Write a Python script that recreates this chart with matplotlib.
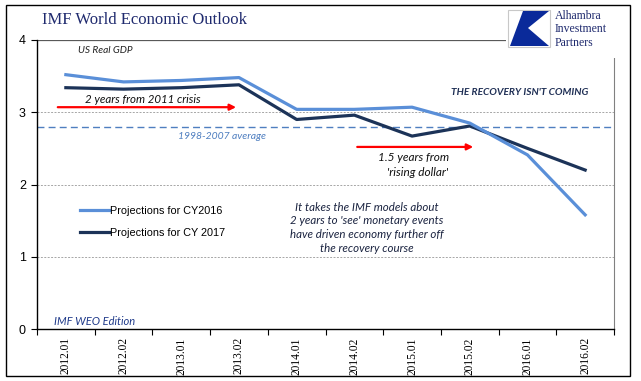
import matplotlib.pyplot as plt
from matplotlib.patches import Rectangle, Polygon

# IMF WEO projections of US real GDP growth, by WEO edition
editions = ['2012.01', '2012.02', '2013.01', '2013.02', '2014.01',
            '2014.02', '2015.01', '2015.02', '2016.01', '2016.02']
cy2016 = [3.52, 3.42, 3.44, 3.48, 3.04, 3.04, 3.07, 2.85, 2.41, 1.58]
cy2017 = [3.34, 3.32, 3.34, 3.38, 2.90, 2.96, 2.67, 2.81, 2.50, 2.20]
avg_98_07 = 2.8

light = '#5a8fd8'
dark = '#1c3358'
navy_text = '#1f2a6e'

fig = plt.figure(figsize=(6.41, 3.81), dpi=100)
ax = fig.add_axes([37 / 641, 1 - 329 / 381, 577 / 641, 289 / 381])

x = list(range(len(editions)))
ax.plot(x, cy2016, color=light, lw=2.3, label='Projections for CY2016', zorder=4)
ax.plot(x, cy2017, color=dark, lw=2.3, label='Projections for CY 2017', zorder=3)

ax.set_xlim(-0.5, len(editions) - 0.5)
ax.set_ylim(0, 4)

# gridlines and average line
for g in [1, 2, 3]:
    ax.axhline(g, color='#a6a6a6', lw=0.7, ls=(0, (2, 1.5)), zorder=1)
ax.axhline(4, color='#595959', lw=0.9, zorder=1)
ax.axhline(avg_98_07, color='#4f7fc0', lw=1.0, ls=(0, (5, 3)), zorder=2)

ax.spines['top'].set_visible(False)
ax.spines['right'].set_color('#808080')
ax.spines['left'].set_linewidth(1.0)
ax.spines['bottom'].set_linewidth(1.0)

ax.set_yticks([0, 1, 2, 3, 4])
ax.set_yticklabels(['0', '1', '2', '3', '4'], fontsize=9, family='Liberation Sans')
ax.tick_params(axis='y', length=4, width=0.8, pad=4)

ax.set_xticks([i - 0.5 for i in range(len(editions) + 1)])
ax.set_xticklabels([])
ax.set_xticks(x, minor=True)
ax.set_xticklabels(editions, minor=True, rotation=90, fontsize=8.3,
                   family='Liberation Serif')
ax.tick_params(axis='x', which='major', length=4, width=0.8)
ax.tick_params(axis='x', which='minor', length=0, pad=6)

leg = ax.legend(loc='upper left', bbox_to_anchor=(70 / 641, 1 - 196 / 381),
                bbox_transform=fig.transFigure, frameon=False,
                handlelength=2.7, handletextpad=0.1, labelspacing=1.1,
                prop={'family': 'Liberation Sans', 'size': 7.8})

# annotations
it = dict(style='italic', family='Lato')
ax.text(0.68, 3.86, 'US Real GDP', fontsize=7.3, color='#222222', ha='center', va='center', **it)
ax.text(1.34, 3.17, '2 years from 2011 crisis', fontsize=8.3, color='#111111',
        ha='center', va='center', **it)
ax.annotate('', xy=(2.95, 3.07), xytext=(-0.14, 3.07),
            arrowprops=dict(arrowstyle='-|>', color='#ff0000', lw=1.6,
                            mutation_scale=9, shrinkA=0, shrinkB=0))
ax.text(2.71, 2.66, '1998-2007 average', fontsize=7.5, color='#4f7fc0',
        ha='center', va='center', **it)
ax.text(7.87, 3.28, "THE RECOVERY ISN'T COMING", fontsize=7.3, color='#1f2f55',
        ha='center', va='center', weight='bold', **it)
ax.annotate('', xy=(7.06, 2.52), xytext=(5.05, 2.52),
            arrowprops=dict(arrowstyle='-|>', color='#ff0000', lw=1.6,
                            mutation_scale=9, shrinkA=0, shrinkB=0))
ax.text(6.02, 2.38, '1.5 years from', fontsize=8.5, color='#111111',
        ha='center', va='center', **it)
ax.text(6.1, 2.17, "'rising dollar'", fontsize=8.5, color='#111111',
        ha='center', va='center', **it)
ax.text(5.22, 1.40, "It takes the IMF models about\n2 years to 'see' monetary events\n"
        "have driven economy further off\nthe recovery course",
        fontsize=8.3, color='#1a2340', ha='center', va='center', linespacing=1.3, **it)
ax.text(0.5, 0.11, 'IMF WEO Edition', fontsize=8, color='#1f3a8a',
        ha='center', va='center', **it)

# title
fig.text(42 / 641, 1 - 20 / 381, 'IMF World Economic Outlook', fontsize=12,
         family='Liberation Serif', color=navy_text, va='center', ha='left')

# logo (covers the top line and right spine)
def px(xp, yp):
    return (xp / 641, 1 - yp / 381)

fig.patches.append(Rectangle(px(506, 58), 124 / 641, 52 / 381, transform=fig.transFigure,
                             facecolor='white', edgecolor='none', zorder=5))
fig.patches.append(Rectangle(px(508, 47), 42 / 641, 37 / 381, transform=fig.transFigure,
                             facecolor='white', edgecolor='#c8c8c8', lw=0.8, zorder=6))
fig.patches.append(Polygon([px(523, 11), px(549, 11), px(528, 28), px(549, 46), px(510, 46)],
                           closed=True, transform=fig.transFigure,
                           facecolor='#0a2a9a', edgecolor='none', zorder=7))
for i, word in enumerate(['Alhambra', 'Investment', 'Partners']):
    fig.text(555 / 641, 1 - (16 + 13.5 * i) / 381, word, fontsize=8.5,
             family='Liberation Serif', color='#1f2a6e', va='center', ha='left', zorder=8)

# outer border
fig.patches.append(Rectangle((6 / 641, 1 - 376 / 381), 624 / 641, 371 / 381,
                             transform=fig.transFigure, fill=False,
                             edgecolor='black', lw=1.0, zorder=9))

fig.savefig('out.png', dpi=100)
